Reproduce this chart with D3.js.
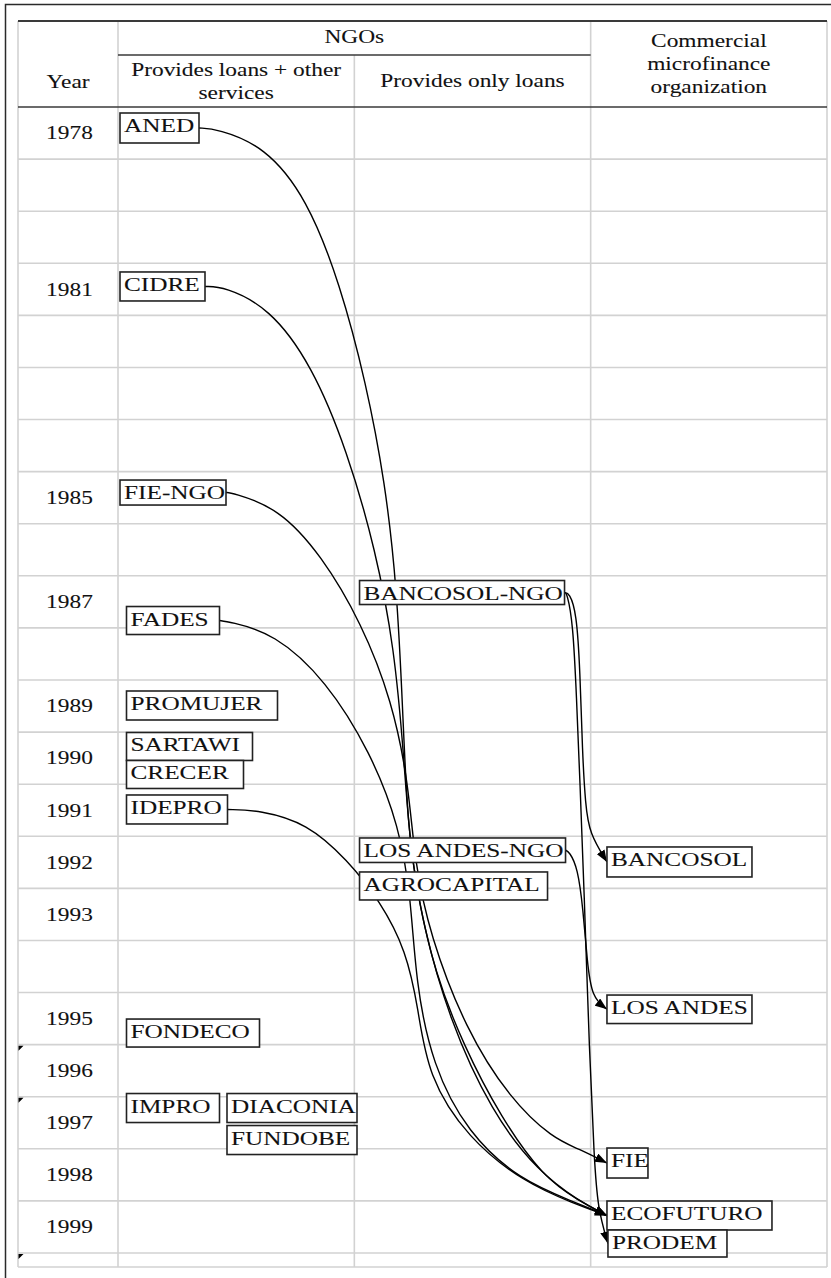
<!DOCTYPE html>
<html><head><meta charset="utf-8">
<script src="https://cdn.jsdelivr.net/npm/d3@7"></script>
<style>html,body{margin:0;padding:0;background:#fff;} svg{display:block;}</style>
</head><body>
<svg id="chart" width="831" height="1278"></svg>
<script>
// ---------------- DATA ----------------
const groupHeader = "NGOs";
const yearHeader = ["Year"];
const columnHeaders = [
  ["Provides loans + other", "services"],
  ["Provides only loans"],
  ["Commercial", "microfinance", "organization"]
];
const categories = ["loansPlus", "loansOnly", "commercial"];
const years = d3.range(1978, 2000);            // one table row per year
const yearLabels = [1978, 1981, 1985, 1987, 1989, 1990, 1991, 1992, 1993, 1995, 1996, 1997, 1998, 1999];
const commentMarks = [1996, 1997, 2000];

const nodeNames = ["ANED", "CIDRE", "FIE-NGO", "FADES", "PROMUJER", "SARTAWI", "CRECER", "IDEPRO",
  "FONDECO", "IMPRO", "DIACONIA", "FUNDOBE",
  "BANCOSOL-NGO", "LOS ANDES-NGO", "AGROCAPITAL",
  "BANCOSOL", "LOS ANDES", "FIE", "ECOFUTURO", "PRODEM"];
const nodeCategory = ["loansPlus", "loansPlus", "loansPlus", "loansPlus", "loansPlus", "loansPlus", "loansPlus", "loansPlus",
  "loansPlus", "loansPlus", "loansPlus", "loansPlus",
  "loansOnly", "loansOnly", "loansOnly",
  "commercial", "commercial", "commercial", "commercial", "commercial"];
const nodeYear = [1978, 1981, 1985, 1987, 1989, 1990, 1990, 1991,
  1995, 1997, 1997, 1997,
  1987, 1992, 1992,
  1992, 1995, 1998, 1999, 1999];

const linkSources = ["ANED", "CIDRE", "FIE-NGO", "FADES", "IDEPRO", "BANCOSOL-NGO", "BANCOSOL-NGO", "LOS ANDES-NGO"];
const linkTargets = ["ECOFUTURO", "ECOFUTURO", "FIE", "ECOFUTURO", "ECOFUTURO", "BANCOSOL", "PRODEM", "LOS ANDES"];

// ---------------- LAYOUT (box nudges / sizes, edge routing in data space) ----------------
const nodeLayout = {
  "ANED": {dx: 2, dy: 6, w: 79, h: 30},
  "CIDRE": {dx: 2, dy: 8.7, w: 85, h: 29},
  "FIE-NGO": {dx: 2, dy: 8.4, w: 106, h: 25},
  "FADES": {dx: 8.5, dy: 30.7, w: 93, h: 28},
  "PROMUJER": {dx: 8.5, dy: 11, w: 151, h: 29},
  "SARTAWI": {dx: 8.5, dy: 0.4, w: 126, h: 28},
  "CRECER": {dx: 8.5, dy: 28.4, w: 117, h: 28},
  "IDEPRO": {dx: 8.5, dy: 10.8, w: 101, h: 29},
  "FONDECO": {dx: 8.5, dy: 26.5, w: 133, h: 28},
  "IMPRO": {dx: 8.5, dy: -3.2, w: 93, h: 29},
  "DIACONIA": {dx: 109, dy: -3.2, w: 130, h: 29},
  "FUNDOBE": {dx: 109, dy: 28.8, w: 130, h: 29},
  "BANCOSOL-NGO": {dx: 5.2, dy: 4.7, w: 205, h: 24},
  "LOS ANDES-NGO": {dx: 5.2, dy: 1.7, w: 206, h: 24.5},
  "AGROCAPITAL": {dx: 5.2, dy: 35.7, w: 188, h: 28},
  "BANCOSOL": {dx: 16.3, dy: 10.7, w: 145, h: 30},
  "LOS ANDES": {dx: 16.3, dy: 2.5, w: 145, h: 28.5},
  "FIE": {dx: 16.3, dy: -0.8, w: 41, h: 30},
  "ECOFUTURO": {dx: 16.3, dy: 0.1, w: 165, h: 29},
  "PRODEM": {dx: 17.3, dy: 29.1, w: 119, h: 27}
};
// B-spline control points: [column coordinate (0..3), year coordinate]
const linkRoutes = [
  [[0.42,1978.42],[0.62,1978.75],[0.80,1979.75],[0.94,1981.40],[1.05,1983.30],[1.13,1985.20],[1.18,1987.20],[1.205,1989.60],[1.225,1991.80],[1.27,1993.20],[1.34,1994.60],[1.46,1996.00],[1.62,1997.40],[1.80,1998.55],[1.95,1999.00]],
  [[0.45,1981.45],[0.64,1981.85],[0.82,1982.95],[0.97,1984.60],[1.09,1986.50],[1.17,1988.40],[1.21,1990.50],[1.235,1992.20],[1.29,1993.70],[1.40,1995.50],[1.58,1997.30],[1.78,1998.45],[1.95,1999.00]],
  [[0.48,1985.40],[0.68,1985.70],[0.86,1986.60],[1.03,1987.90],[1.16,1989.40],[1.23,1991.00],[1.255,1992.50],[1.32,1993.90],[1.47,1995.70],[1.66,1997.05],[1.84,1997.80],[1.95,1998.00]],
  [[0.47,1987.88],[0.66,1988.10],[0.88,1989.00],[1.07,1990.40],[1.19,1991.80],[1.24,1993.20],[1.26,1994.80],[1.33,1996.40],[1.48,1997.70],[1.70,1998.60],[1.93,1999.02]],
  [[0.60,1991.50],[0.80,1991.75],[0.97,1992.45],[1.11,1993.25],[1.22,1994.20],[1.27,1995.30],[1.31,1996.60],[1.48,1997.80],[1.72,1998.65],[1.93,1999.05]],
  [[1.91,1987.33],[1.94,1987.70],[1.955,1988.80],[1.965,1990.40],[1.978,1991.40],[1.995,1991.95]],
  [[1.90,1987.33],[1.925,1987.90],[1.94,1989.30],[1.955,1991.00],[1.972,1993.00],[1.995,1996.20],[2.015,1998.20],[2.03,1999.15]],
  [[1.91,1992.30],[1.945,1992.60],[1.968,1993.40],[1.985,1994.40],[2.005,1995.10]]
];

// ---------------- DRAW ----------------
const svg = d3.select("#chart");
const FONT = "'Liberation Serif', 'Times New Roman', serif";
const X_STRETCH = 1.3;

const tableLeft = 18, yearColRight = 118, tableRight = 827;
const headerTop = 21, subHeaderY = 55;
const xScale = d3.scaleLinear().domain([0, 3]).range([yearColRight, tableRight]);
const yScale = d3.scaleLinear().domain([1978, 2000]).range([107, 1253]);
const tableBottom = yScale(2000) + 14;
const colIndex = c => categories.indexOf(c);

// outer frame
svg.append("path").attr("d", `M5.5,1278V4.5H831`).attr("fill", "none")
  .attr("stroke", "#2a2a2a").attr("stroke-width", 1.5);

// grid
const grid = svg.append("g").attr("stroke", "#d2d2d2").attr("stroke-width", 1.6);
years.slice(1).concat([2000]).forEach(y => {
  grid.append("line").attr("x1", tableLeft).attr("x2", tableRight).attr("y1", yScale(y)).attr("y2", yScale(y));
});
grid.append("line").attr("x1", tableLeft).attr("x2", tableRight).attr("y1", tableBottom).attr("y2", tableBottom);
[tableLeft, xScale(0), xScale(2), xScale(3)].forEach(x => {
  grid.append("line").attr("x1", x).attr("x2", x).attr("y1", headerTop).attr("y2", tableBottom);
});
grid.append("line").attr("x1", xScale(1)).attr("x2", xScale(1)).attr("y1", subHeaderY).attr("y2", tableBottom);

// header rules
const rules = svg.append("g").attr("stroke", "#3a3a3a");
rules.append("line").attr("x1", tableLeft).attr("x2", tableRight).attr("y1", headerTop).attr("y2", headerTop).attr("stroke-width", 2);
rules.append("line").attr("x1", xScale(0)).attr("x2", xScale(2)).attr("y1", subHeaderY).attr("y2", subHeaderY).attr("stroke-width", 1.6);
rules.append("line").attr("x1", tableLeft).attr("x2", tableRight).attr("y1", yScale(1978)).attr("y2", yScale(1978)).attr("stroke-width", 1.6);

// comment marks
svg.append("g").selectAll("path").data(commentMarks).join("path")
  .attr("d", d => `M${tableLeft + 0.5},${yScale(d) + 1}h5l-5,5z`).attr("fill", "#000");

function stretchedText(g, str, x, y, size, anchor, sx) {
  return g.append("text")
    .attr("transform", `translate(${x},${y}) scale(${sx},1)`)
    .attr("text-anchor", anchor)
    .attr("font-family", FONT).attr("font-size", size).attr("fill", "#111")
    .attr("stroke", "#111").attr("stroke-width", 0.08)
    .text(str);
}

// header text
const head = svg.append("g");
stretchedText(head, groupHeader, (xScale(0) + xScale(2)) / 2, 43, 18, "middle", X_STRETCH);
const lowerMid = (subHeaderY + yScale(1978)) / 2 + 6;
const fullMid = (headerTop + yScale(1978)) / 2 + 6;
yearHeader.forEach(t => stretchedText(head, t, (tableLeft + yearColRight) / 2, lowerMid + 1, 18, "middle", X_STRETCH));
columnHeaders.forEach((lines, ci) => {
  const cx = (xScale(ci) + xScale(ci + 1)) / 2;
  const mid = ci < 2 ? lowerMid : fullMid;
  const lh = 23;
  lines.forEach((t, li) => {
    stretchedText(head, t, cx, mid + (li - (lines.length - 1) / 2) * lh, 18, "middle", X_STRETCH);
  });
});

// year labels
const yl = svg.append("g");
yearLabels.forEach(y => {
  stretchedText(yl, String(y), (tableLeft + yearColRight) / 2 + 1.5, yScale(y + 0.5) + 6.3, 18, "middle", X_STRETCH);
});

// node boxes
const nodes = nodeNames.map((n, i) => {
  const L = nodeLayout[n];
  const x = xScale(colIndex(nodeCategory[i])) + L.dx;
  const y = yScale(nodeYear[i]) + L.dy;
  return {name: n, x, y, w: L.w, h: L.h};
});
const byName = Object.fromEntries(nodes.map(n => [n.name, n]));

// arrow marker
svg.append("defs").append("marker")
  .attr("id", "arrow").attr("viewBox", "0 0 12 9").attr("refX", 12).attr("refY", 4.5)
  .attr("markerWidth", 12).attr("markerHeight", 9).attr("markerUnits", "userSpaceOnUse")
  .attr("orient", "auto")
  .append("path").attr("d", "M0,0L12,4.5L0,9Z").attr("fill", "#000");

// links
const line = d3.line().curve(d3.curveBasis);
const links = linkSources.map((s, i) => {
  const S = byName[s], T = byName[linkTargets[i]];
  const start = [S.x + S.w, S.y + S.h / 2];
  const end = [T.x, T.y + T.h / 2];
  return [start, start]
    .concat(linkRoutes[i].map(p => [xScale(p[0]), yScale(p[1])]))
    .concat([end]);
});
svg.append("g").selectAll("path").data(links).join("path")
  .attr("d", d => line(d)).attr("fill", "none").attr("stroke", "#000")
  .attr("stroke-width", 1.4).attr("marker-end", "url(#arrow)");

// boxes drawn over links
const ng = svg.append("g").selectAll("g").data(nodes).join("g");
ng.append("rect").attr("x", d => d.x).attr("y", d => d.y).attr("width", d => d.w).attr("height", d => d.h)
  .attr("fill", "#fff").attr("stroke", "#222").attr("stroke-width", 1.6);
ng.each(function(d) {
  stretchedText(d3.select(this), d.name, d.x + 4, d.y + 19, 19, "start", 1.33);
});
</script>
</body></html>
